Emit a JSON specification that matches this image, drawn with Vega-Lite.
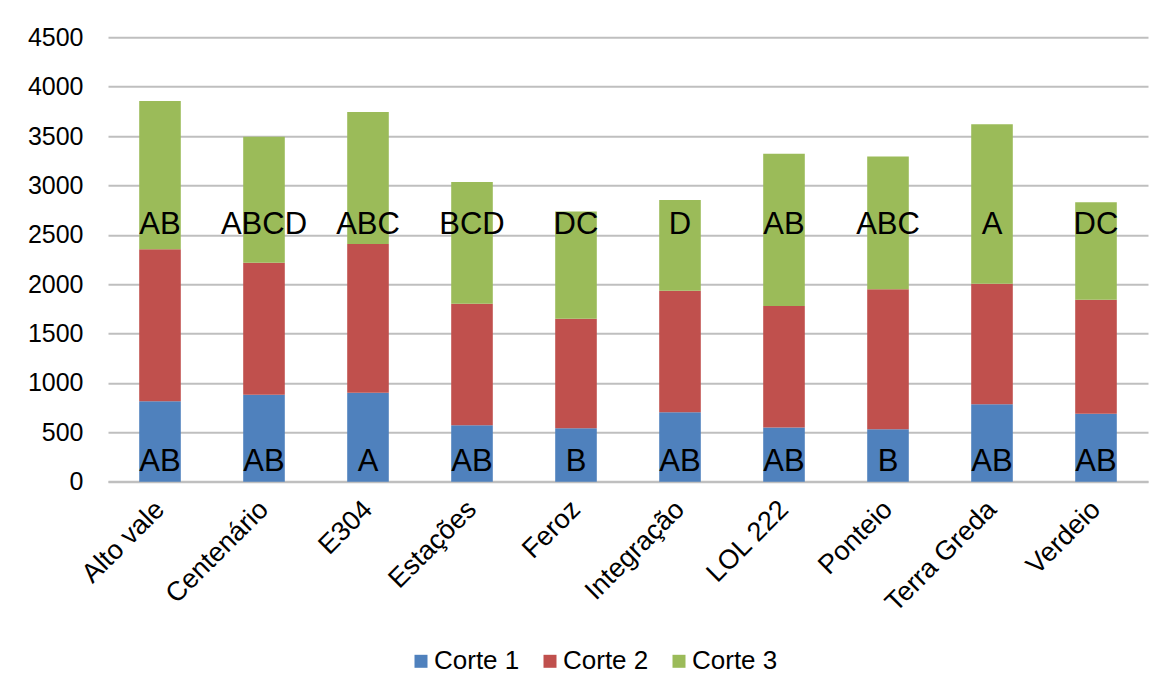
{
  "$schema": "https://vega.github.io/schema/vega-lite/v6.json",
  "autosize": "none",
  "width": 1040,
  "height": 444.4,
  "padding": {"left": 108, "top": 37.3, "right": 23, "bottom": 213.3},
  "background": "white",
  "config": {
    "font": "Liberation Sans",
    "view": {"stroke": null},
    "axis": {"labelFont": "Liberation Sans", "labelColor": "#000000", "labelFontSize": 25, "ticks": false}
  },
  "data": {
    "values": [
      {"cultivar": "Alto vale", "corte": "Corte 1", "valor": 814, "letra": "AB"},
      {"cultivar": "Alto vale", "corte": "Corte 2", "valor": 1539, "letra": ""},
      {"cultivar": "Alto vale", "corte": "Corte 3", "valor": 1502, "letra": "AB"},
      {"cultivar": "Centenário", "corte": "Corte 1", "valor": 881, "letra": "AB"},
      {"cultivar": "Centenário", "corte": "Corte 2", "valor": 1337, "letra": ""},
      {"cultivar": "Centenário", "corte": "Corte 3", "valor": 1276, "letra": "ABCD"},
      {"cultivar": "E304", "corte": "Corte 1", "valor": 901, "letra": "A"},
      {"cultivar": "E304", "corte": "Corte 2", "valor": 1506, "letra": ""},
      {"cultivar": "E304", "corte": "Corte 3", "valor": 1337, "letra": "ABC"},
      {"cultivar": "Estações", "corte": "Corte 1", "valor": 571, "letra": "AB"},
      {"cultivar": "Estações", "corte": "Corte 2", "valor": 1232, "letra": ""},
      {"cultivar": "Estações", "corte": "Corte 3", "valor": 1232, "letra": "BCD"},
      {"cultivar": "Feroz", "corte": "Corte 1", "valor": 540, "letra": "B"},
      {"cultivar": "Feroz", "corte": "Corte 2", "valor": 1111, "letra": ""},
      {"cultivar": "Feroz", "corte": "Corte 3", "valor": 1084, "letra": "DC"},
      {"cultivar": "Integração", "corte": "Corte 1", "valor": 702, "letra": "AB"},
      {"cultivar": "Integração", "corte": "Corte 2", "valor": 1232, "letra": ""},
      {"cultivar": "Integração", "corte": "Corte 3", "valor": 919, "letra": "D"},
      {"cultivar": "LOL 222", "corte": "Corte 1", "valor": 550, "letra": "AB"},
      {"cultivar": "LOL 222", "corte": "Corte 2", "valor": 1229, "letra": ""},
      {"cultivar": "LOL 222", "corte": "Corte 3", "valor": 1543, "letra": "AB"},
      {"cultivar": "Ponteio", "corte": "Corte 1", "valor": 530, "letra": "B"},
      {"cultivar": "Ponteio", "corte": "Corte 2", "valor": 1418, "letra": ""},
      {"cultivar": "Ponteio", "corte": "Corte 3", "valor": 1344, "letra": "ABC"},
      {"cultivar": "Terra Greda", "corte": "Corte 1", "valor": 783, "letra": "AB"},
      {"cultivar": "Terra Greda", "corte": "Corte 2", "valor": 1222, "letra": ""},
      {"cultivar": "Terra Greda", "corte": "Corte 3", "valor": 1614, "letra": "A"},
      {"cultivar": "Verdeio", "corte": "Corte 1", "valor": 689, "letra": "AB"},
      {"cultivar": "Verdeio", "corte": "Corte 2", "valor": 1154, "letra": ""},
      {"cultivar": "Verdeio", "corte": "Corte 3", "valor": 986, "letra": "DC"}
    ]
  },
  "encoding": {
    "x": {
      "field": "cultivar",
      "type": "nominal",
      "sort": null,
      "scale": {"paddingInner": 0.6, "paddingOuter": 0.3},
      "axis": {
        "title": null,
        "labelAngle": -45,
        "labelAlign": "right",
        "labelBaseline": "top",
        "labelFontSize": 27,
        "labelPadding": 14,
        "labelOffset": -9,
        "domain": true,
        "domainColor": "#BFBFBF",
        "domainWidth": 2,
        "grid": false
      }
    }
  },
  "layer": [
    {
      "mark": {"type": "bar"},
      "encoding": {
        "y": {
          "field": "valor",
          "type": "quantitative",
          "stack": "zero",
          "scale": {"domain": [0, 4500], "nice": false},
          "axis": {
            "title": null,
            "format": "d",
            "values": [0, 500, 1000, 1500, 2000, 2500, 3000, 3500, 4000, 4500],
            "domain": false,
            "grid": true,
            "gridColor": "#BFBFBF",
            "gridWidth": 2,
            "labelPadding": 25
          }
        },
        "color": {
          "field": "corte",
          "type": "nominal",
          "scale": {"domain": ["Corte 1", "Corte 2", "Corte 3"], "range": ["#4F81BD", "#C0504D", "#9BBB59"]},
          "legend": {
            "title": null,
            "orient": "none",
            "direction": "horizontal",
            "legendX": 300,
            "legendY": 611,
            "symbolType": "square",
            "symbolSize": 169,
            "symbolStrokeWidth": 0,
            "labelFontSize": 26,
            "labelColor": "#000000",
            "labelOffset": 0,
            "columnPadding": 17
          }
        },
        "order": {"field": "corte", "sort": "ascending"}
      }
    },
    {
      "transform": [{"filter": "datum.corte === 'Corte 1'"}],
      "mark": {"type": "text", "fontSize": 31, "color": "#000000", "baseline": "middle", "align": "center"},
      "encoding": {
        "y": {"datum": 200, "type": "quantitative"},
        "text": {"field": "letra"}
      }
    },
    {
      "transform": [{"filter": "datum.corte === 'Corte 3'"}],
      "mark": {"type": "text", "fontSize": 31, "color": "#000000", "baseline": "middle", "align": "center"},
      "encoding": {
        "y": {"datum": 2600, "type": "quantitative"},
        "text": {"field": "letra"}
      }
    }
  ]
}
